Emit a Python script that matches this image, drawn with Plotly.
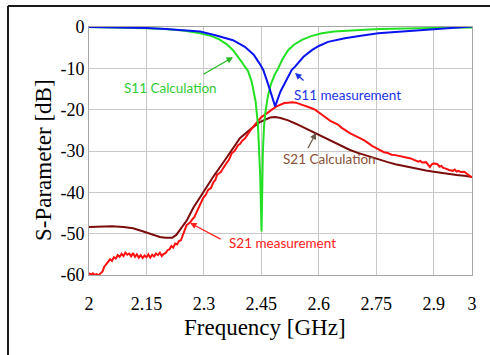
import plotly.graph_objects as go

# ---------------- data ----------------
s11_calc_f = [2.00, 2.05, 2.10, 2.15, 2.20, 2.25, 2.29, 2.32, 2.34, 2.36, 2.376, 2.39, 2.40, 2.407,
              2.415, 2.425, 2.435, 2.441, 2.444, 2.447, 2.4505, 2.452, 2.454, 2.457, 2.46, 2.467, 2.475,
              2.485, 2.493, 2.505, 2.52, 2.535, 2.556, 2.58, 2.608, 2.64, 2.67, 2.72, 2.76, 2.84, 2.92, 3.00]
s11_calc_db = [0.0, -0.05, -0.15, -0.3, -0.5, -0.9, -1.5, -2.2, -3.0, -4.2, -5.6, -7.2, -8.6, -9.6,
               -10.6, -13.3, -18.0, -23.5, -29.0, -36.0, -49.5, -40.0, -30.0, -24.0, -21.0, -16.8, -13.8,
               -11.5, -10.2, -7.8, -5.6, -4.3, -3.1, -2.2, -1.5, -1.1, -0.9, -0.65, -0.5, -0.3, -0.2, -0.1]

s11_meas_f = [2.00, 2.05, 2.10, 2.15, 2.20, 2.25, 2.29, 2.33, 2.376, 2.407, 2.42, 2.43, 2.445, 2.455,
              2.47, 2.486, 2.50, 2.515, 2.529, 2.538, 2.56, 2.582, 2.60, 2.624, 2.668, 2.71, 2.755,
              2.80, 2.843, 2.89, 2.93, 2.97, 3.00]
s11_meas_db = [0.0, -0.05, -0.15, -0.25, -0.5, -0.8, -1.1, -2.0, -3.2, -4.8, -5.8, -6.7, -8.8, -10.4,
               -14.5, -19.2, -15.6, -12.8, -10.4, -9.6, -7.2, -5.6, -4.6, -3.6, -2.7, -2.1, -1.5,
               -1.2, -0.9, -0.6, -0.4, -0.15, 0.1]

s21_meas_f = [2.000, 2.005, 2.010, 2.015, 2.020, 2.025, 2.030, 2.035, 2.040, 2.045, 2.050, 2.055, 2.060,
              2.065, 2.070, 2.075, 2.080, 2.085, 2.090, 2.095, 2.100, 2.105, 2.110, 2.115, 2.120, 2.125,
              2.130, 2.135, 2.140, 2.145, 2.150, 2.155, 2.160, 2.165, 2.170, 2.175, 2.180, 2.185, 2.190,
              2.195, 2.200, 2.205, 2.210, 2.215, 2.220, 2.225, 2.230, 2.235, 2.240, 2.245, 2.250, 2.255,
              2.260, 2.265, 2.270, 2.275, 2.281, 2.285, 2.290, 2.298, 2.305, 2.311, 2.318, 2.325, 2.330,
              2.334, 2.340, 2.345, 2.350, 2.355, 2.360, 2.365, 2.373, 2.380, 2.389, 2.394, 2.400, 2.407,
              2.41, 2.42, 2.43, 2.44, 2.45, 2.46, 2.47, 2.48, 2.49, 2.50, 2.51, 2.52, 2.53, 2.54, 2.55,
              2.56, 2.57, 2.58, 2.59, 2.60, 2.61, 2.62, 2.63, 2.64, 2.65, 2.66, 2.67, 2.68, 2.69, 2.70,
              2.71, 2.72, 2.73, 2.74, 2.75, 2.76, 2.77, 2.78, 2.79, 2.80, 2.81, 2.82, 2.83, 2.84, 2.85,
              2.86, 2.865, 2.87, 2.88, 2.89, 2.895, 2.90, 2.91, 2.915, 2.92, 2.925, 2.93, 2.94, 2.95,
              2.955, 2.96, 2.965, 2.97, 2.98, 2.985, 2.99, 2.995, 3.00]
s21_meas_db = [-59.5, -60.0, -59.6, -60.0, -59.8, -60.1, -59.6, -59.2, -58.0, -57.4, -57.0, -56.2, -56.6,
               -55.7, -56.0, -55.2, -55.6, -54.9, -55.4, -54.6, -55.1, -54.8, -55.5, -54.7, -55.6, -55.0,
               -55.8, -55.2, -55.9, -55.3, -55.7, -55.0, -55.8, -55.1, -55.5, -54.8, -55.2, -54.6, -55.4,
               -54.9, -54.7, -54.0, -53.8, -53.0, -53.4, -52.4, -52.6, -51.8, -51.6, -50.4, -49.0, -47.9,
               -47.6, -47.2, -46.5, -46.0, -44.8, -44.0, -43.2, -41.4, -40.6, -39.4, -39.0, -37.5, -37.0,
               -35.8, -35.4, -35.0, -34.2, -33.4, -32.8, -32.2, -30.5, -30.0, -28.6, -28.3, -27.5, -27.0,
               -26.5, -25.2, -24.0, -22.8, -21.8, -21.2, -20.4, -19.8, -19.2, -18.8, -18.4, -18.3, -18.2,
               -18.3, -18.6, -18.9, -19.3, -19.6, -20.0, -20.6, -21.3, -22.0, -22.7, -23.2, -23.6, -24.4,
               -25.1, -25.6, -26.1, -26.5, -27.0, -27.5, -28.2, -28.8, -29.3, -29.8, -30.3, -30.5, -30.9,
               -31.0, -31.2, -31.4, -31.6, -31.8, -32.2, -32.6, -32.4, -32.8, -32.7, -33.9, -33.2, -33.0,
               -33.2, -33.8, -33.6, -34.1, -34.2, -34.6, -34.8, -34.5, -35.0, -34.8, -35.1, -35.0, -35.4,
               -35.8, -36.0, -36.4]

s21_calc_f = [2.00, 2.03, 2.06, 2.09, 2.115, 2.14, 2.16, 2.185, 2.20, 2.217, 2.228, 2.238, 2.256, 2.272,
              2.298, 2.324, 2.36, 2.394, 2.426, 2.446, 2.473, 2.486, 2.50, 2.52, 2.54, 2.56, 2.58, 2.60,
              2.62, 2.64, 2.66, 2.68, 2.70, 2.72, 2.74, 2.76, 2.78, 2.80, 2.82, 2.84, 2.86, 2.88, 2.90,
              2.92, 2.94, 2.96, 2.98, 3.00]
s21_calc_db = [-48.4, -48.3, -48.2, -48.4, -48.7, -49.4, -50.1, -50.8, -51.0, -51.0, -50.3, -49.1, -46.7, -43.8,
               -39.9, -36.3, -31.5, -26.9, -24.4, -23.0, -21.9, -21.8, -22.0, -22.6, -23.4, -24.3, -25.2, -26.1,
               -27.1, -28.0, -28.9, -29.7, -30.4, -31.0, -31.6, -32.2, -32.7, -33.2, -33.6, -34.0, -34.4,
               -34.7, -35.0, -35.3, -35.6, -35.8, -36.0, -36.3]

x_ticks = [2, 2.15, 2.3, 2.45, 2.6, 2.75, 2.9, 3]
x_tick_text = ["2", "2.15", "2.3", "2.45", "2.6", "2.75", "2.9", "3"]
y_ticks = [0, -10, -20, -30, -40, -50, -60]
y_tick_text = ["0", "-10", "-20", "-30", "-40", "-50", "-60"]

# ---------------- figure ----------------
fig = go.Figure()
fig.add_trace(go.Scatter(x=s21_calc_f, y=s21_calc_db, mode="lines",
                         line=dict(color="#7a0c0c", width=2), name="S21 Calculation"))
fig.add_trace(go.Scatter(x=s21_meas_f, y=s21_meas_db, mode="lines",
                         line=dict(color="#ff1010", width=2), name="S21 measurement"))
fig.add_trace(go.Scatter(x=s11_calc_f, y=s11_calc_db, mode="lines",
                         line=dict(color="#22e022", width=2), name="S11 Calculation"))
fig.add_trace(go.Scatter(x=s11_meas_f, y=s11_meas_db, mode="lines",
                         line=dict(color="#0a14f0", width=2), name="S11 measurement"))

lbl_font = "Lato, 'Open Sans', sans-serif"
annotations = [
    # labels
    dict(x=2.2115, y=-14.8, text="S11 Calculation", showarrow=False,
         font=dict(family=lbl_font, size=13.5, color="#33cc33")),
    dict(x=2.674, y=-16.5, text="S11 measurement", showarrow=False,
         font=dict(family=lbl_font, size=13.5, color="#1a33e6")),
    dict(x=2.629, y=-31.9, text="S21 Calculation", showarrow=False,
         font=dict(family=lbl_font, size=13.5, color="#8b5236")),
    dict(x=2.5065, y=-52.3, text="S21 measurement", showarrow=False,
         font=dict(family=lbl_font, size=13.5, color="#ff2020")),
    # arrows
    dict(x=2.376, y=-7.3, ax=-31, ay=18, text="", showarrow=True, arrowhead=2,
         arrowsize=1, arrowwidth=1.3, arrowcolor="#22bb22"),
    dict(x=2.538, y=-11.1, ax=10, ay=9, text="", showarrow=True, arrowhead=2,
         arrowsize=1, arrowwidth=1.3, arrowcolor="#1a33e6"),
    dict(x=2.593, y=-25.6, ax=-9, ay=17, text="", showarrow=True, arrowhead=2,
         arrowsize=1, arrowwidth=1.3, arrowcolor="#6b5a4a"),
    dict(x=2.264, y=-47.4, ax=32, ay=17, text="", showarrow=True, arrowhead=2,
         arrowsize=1, arrowwidth=1.3, arrowcolor="#ff2020"),
    # axis titles
    dict(xref="paper", yref="paper", x=0.4595, y=-0.2137, xanchor="center", yanchor="middle",
         text="Frequency [GHz]", showarrow=False,
         font=dict(family="Liberation Serif", size=23, color="black")),
    dict(xref="paper", yref="paper", x=-0.120, y=0.4637, xanchor="center", yanchor="middle",
         text="S-Parameter [dB]", textangle=-90, showarrow=False,
         font=dict(family="Liberation Serif", size=23, color="black")),
]

shapes = [
    dict(type="line", xref="paper", yref="paper", x0=-0.2115, x1=-0.2115, y0=-0.33, y1=1.0847,
         line=dict(color="#1a1a1a", width=2)),
    dict(type="line", xref="paper", yref="paper", x0=-0.2115, x1=1.06, y0=1.0847, y1=1.0847,
         line=dict(color="#1a1a1a", width=2)),
]

fig.update_layout(
    width=490, height=355,
    margin=dict(l=89, r=18, t=27, b=80),
    paper_bgcolor="white", plot_bgcolor="white",
    showlegend=False,
    annotations=annotations,
    shapes=shapes,
    font=dict(family="Liberation Serif", size=18, color="black"),
)
fig.update_xaxes(range=[2, 3], tickvals=x_ticks, ticktext=x_tick_text,
                 showgrid=True, gridcolor="#c8c8c8", gridwidth=1,
                 showline=True, linecolor="#a6a6a6", linewidth=1, mirror=True,
                 zeroline=False, ticks="", ticklabelstandoff=12,
                 tickfont=dict(family="Liberation Serif", size=18, color="black"))
fig.update_yaxes(range=[-60, 0], tickvals=y_ticks, ticktext=y_tick_text,
                 showgrid=True, gridcolor="#c8c8c8", gridwidth=1,
                 showline=True, linecolor="#a6a6a6", linewidth=1, mirror=True,
                 zeroline=False, ticks="", ticklabelstandoff=0,
                 tickfont=dict(family="Liberation Serif", size=18, color="black"))

fig.write_html("out.html")
